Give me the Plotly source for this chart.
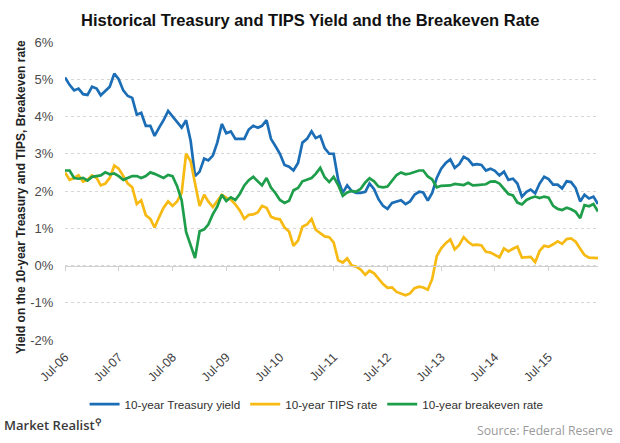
import pandas as pd
import plotly.graph_objects as go

# Monthly observations, Jul-2006 .. Jun-2016
start_month = "2006-07-01"
n_months = 120

treasury = [
    5.05, 4.85, 4.70, 4.75, 4.60, 4.58,
    4.80, 4.75, 4.57, 4.70, 4.80, 5.15, 5.00, 4.70, 4.55, 4.50, 4.05, 4.10,
    3.75, 3.75, 3.48, 3.70, 3.90, 4.15, 4.00, 3.85, 3.70, 3.90, 3.35, 2.40,
    2.52, 2.87, 2.82, 2.95, 3.30, 3.80, 3.55, 3.60, 3.40, 3.40, 3.40, 3.65,
    3.75, 3.70, 3.75, 3.90, 3.40, 3.20, 3.00, 2.70, 2.65, 2.55, 2.75, 3.30,
    3.40, 3.60, 3.42, 3.48, 3.15, 3.00, 3.00, 2.30, 1.95, 2.15, 2.00, 1.95,
    1.95, 1.98, 2.20, 2.05, 1.78, 1.60, 1.52, 1.68, 1.72, 1.75, 1.65, 1.72,
    1.90, 1.98, 1.96, 1.74, 1.95, 2.35, 2.60, 2.75, 2.85, 2.62, 2.72, 2.92,
    2.85, 2.70, 2.72, 2.70, 2.55, 2.60, 2.54, 2.42, 2.52, 2.30, 2.33, 2.20,
    1.85, 1.98, 2.04, 1.94, 2.20, 2.38, 2.32, 2.17, 2.17, 2.07, 2.26, 2.24,
    2.08, 1.72, 1.90, 1.80, 1.85, 1.65,
]

tips = [
    2.50, 2.30, 2.35, 2.42, 2.25, 2.30,
    2.42, 2.35, 2.15, 2.20, 2.35, 2.68, 2.60, 2.40, 2.20, 2.10, 1.65, 1.75,
    1.35, 1.25, 1.02, 1.30, 1.55, 1.72, 1.60, 1.72, 1.95, 3.00, 2.80, 2.20,
    1.60, 1.90, 1.72, 1.57, 1.72, 1.90, 1.82, 1.77, 1.64, 1.48, 1.25, 1.36,
    1.37, 1.43, 1.60, 1.55, 1.31, 1.26, 1.24, 1.02, 0.91, 0.53, 0.67, 1.04,
    1.10, 1.25, 0.96, 0.86, 0.78, 0.76, 0.62, 0.14, 0.08, 0.19, 0.00, -0.03,
    -0.11, -0.25, -0.14, -0.21, -0.34, -0.50, -0.60, -0.59, -0.71, -0.75, -0.80, -0.75,
    -0.61, -0.57, -0.59, -0.65, -0.36, 0.25, 0.46, 0.60, 0.70, 0.43, 0.55, 0.76,
    0.63, 0.55, 0.56, 0.54, 0.37, 0.35, 0.28, 0.22, 0.46, 0.38, 0.45, 0.51,
    0.21, 0.22, 0.23, 0.09, 0.39, 0.53, 0.50, 0.57, 0.65, 0.58, 0.71, 0.73,
    0.64, 0.45, 0.28, 0.21, 0.20, 0.20,
]

breakeven = [
    2.55, 2.55, 2.35, 2.33, 2.35, 2.28,
    2.38, 2.40, 2.42, 2.50, 2.45, 2.47, 2.40, 2.30, 2.35, 2.40, 2.40, 2.35,
    2.40, 2.50, 2.46, 2.40, 2.35, 2.43, 2.40, 2.13, 1.75, 0.90, 0.55, 0.20,
    0.92, 0.97, 1.10, 1.38, 1.58, 1.90, 1.73, 1.83, 1.76, 1.92, 2.15, 2.29,
    2.38, 2.27, 2.15, 2.35, 2.09, 1.94, 1.76, 1.68, 1.74, 2.02, 2.08, 2.26,
    2.30, 2.35, 2.46, 2.62, 2.37, 2.24, 2.38, 2.16, 1.87, 1.96, 2.00, 1.98,
    2.06, 2.23, 2.34, 2.26, 2.12, 2.10, 2.12, 2.27, 2.43, 2.50, 2.45, 2.47,
    2.51, 2.55, 2.55, 2.39, 2.31, 2.10, 2.14, 2.15, 2.15, 2.19, 2.17, 2.16,
    2.22, 2.15, 2.16, 2.16, 2.18, 2.25, 2.26, 2.20, 2.06, 1.92, 1.88, 1.69,
    1.64, 1.76, 1.81, 1.85, 1.81, 1.85, 1.82, 1.60, 1.52, 1.49, 1.55, 1.51,
    1.44, 1.27, 1.62, 1.59, 1.65, 1.45,
]

series_names = ["10-year Treasury yield", "10-year TIPS rate", "10-year breakeven rate"]
series_colors = ["#1B6DB5", "#F7BA12", "#1E9E4A"]

y_ticks = [-2, -1, 0, 1, 2, 3, 4, 5, 6]
y_tick_text = ["-2%", "-1%", "0%", "1%", "2%", "3%", "4%", "5%", "6%"]

dates = pd.date_range(start_month, periods=n_months, freq="MS")

fig = go.Figure()
for name, vals, col in zip(series_names, [treasury, tips, breakeven], series_colors):
    fig.add_trace(go.Scatter(x=dates, y=vals, mode="lines", name=name,
                             line=dict(color=col, width=2.7)))

# dummy trace so the zero-line axis with tick marks is drawn
fig.add_trace(go.Scatter(x=[dates[0]], y=[None], xaxis="x2", showlegend=False,
                         hoverinfo="skip"))

fig.update_layout(
    width=620, height=443,
    margin=dict(l=65, r=22, t=42, b=103),
    paper_bgcolor="white", plot_bgcolor="white",
    font=dict(family="Liberation Sans, Arial, sans-serif", color="#404040"),
    xaxis=dict(
        type="date", range=[dates[0], dates[-1]],
        tick0=start_month, dtick="M12", tickformat="%b-%y",
        tickangle=-45, showgrid=False, zeroline=False, showline=False,
        ticks="outside", ticklen=4, tickcolor="rgba(0,0,0,0)",
        tickfont=dict(size=12.5, color="#404040"),
    ),
    xaxis2=dict(
        type="date", matches="x", overlaying="x", anchor="free", position=0.25,
        tick0=start_month, dtick="M12", showticklabels=False, showgrid=False,
        zeroline=False, showline=True, linecolor="#D0D0D0", linewidth=1,
        ticks="outside", ticklen=4, tickcolor="#D0D0D0",
    ),
    yaxis=dict(
        range=[-2, 6], tickmode="array", tickvals=y_ticks, ticktext=y_tick_text,
        showgrid=True, gridcolor="#D6D6D6", griddash="dot", gridwidth=1,
        zeroline=False, showline=False,
        ticks="outside", ticklen=8, tickcolor="rgba(0,0,0,0)",
        tickfont=dict(size=13, color="#4A4A4A"),
    ),
    legend=dict(orientation="h", x=0.472, xanchor="center", y=-0.215, yanchor="middle",
                font=dict(size=11.7, color="#303030"), bgcolor="rgba(0,0,0,0)"),
    showlegend=True,
)

fig.add_annotation(text="<b>Historical Treasury and TIPS Yield and the Breakeven Rate</b>",
                   xref="paper", yref="paper", x=0.4615, y=1.074, xanchor="center", yanchor="middle",
                   showarrow=False, font=dict(size=16.5, color="#111111"))
fig.add_annotation(text="<b>Yield on the 10-year Treasury and TIPS, Breakeven rate</b>",
                   xref="paper", yref="paper", x=0, y=0.48, xshift=-44, xanchor="center", yanchor="middle",
                   textangle=-90, showarrow=False, font=dict(size=12, color="#222222"))
fig.add_annotation(text="Market Realist<sup>⚲</sup>",
                   xref="paper", yref="paper", x=-0.118, y=-0.285, xanchor="left", yanchor="middle",
                   showarrow=False,
                   font=dict(family="Open Sans, sans-serif", size=13, color="#3A3A3A", weight=600))
fig.add_annotation(text="Source: Federal Reserve",
                   xref="paper", yref="paper", x=1.032, y=-0.305, xanchor="right", yanchor="middle",
                   showarrow=False, font=dict(family="Open Sans, sans-serif", size=12.2, color="#9A9A9A"))

fig.write_html("out.html", config={"displayModeBar": False},
               post_script="document.body.style.margin='0px';document.body.style.overflow='hidden';")
